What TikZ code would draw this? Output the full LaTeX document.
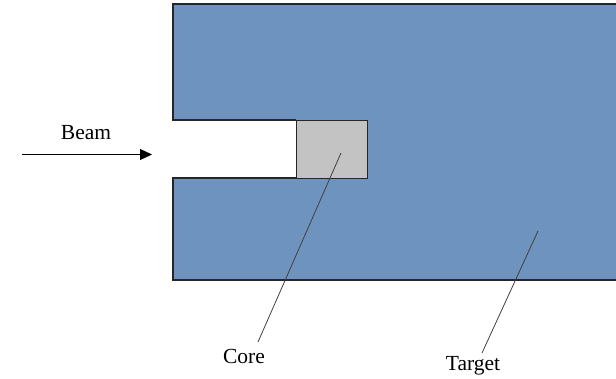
\documentclass[tikz,border=0pt]{standalone}
\usepackage{fontspec}
\setmainfont{Liberation Serif}
\usetikzlibrary{arrows.meta}
\definecolor{targetblue}{HTML}{6F93BF}
\definecolor{coregray}{HTML}{C3C3C3}
\tikzset{
  lbl/.style={font=\fontsize{21.5}{24}\selectfont, inner sep=0pt},
  leader/.style={draw=black!75, line width=0.8pt},
  outline/.style={draw=black!85, line width=1.5pt}
}
\begin{document}
\begin{tikzpicture}[x=1pt,y=-1pt]
\useasboundingbox (0,0) rectangle (616,379);
% target
\fill[targetblue] (173,4) -- (625,4) -- (625,280) -- (173,280) -- (173,178) -- (296,178) -- (296,120) -- (173,120) -- cycle;
\draw[outline] (625,4) -- (173,4) -- (173,120) -- (296,120);
\draw[outline] (296,178) -- (173,178) -- (173,280) -- (625,280);
% core
\node[outline, fill=coregray, minimum width=71pt, minimum height=58pt, inner sep=0pt, anchor=north west] (core) at (295.5,120) {};
\coordinate (coretip) at (341,153);
\coordinate (targettip) at (538,231);
% labels
\node[lbl] (beam) at (86,133) {Beam};
\node[lbl] (corelbl) at (244,356) {Core};
\node[lbl] (targetlbl) at (473,366) {Target};
\coordinate (beamstart) at (22,154.5);
\coordinate (beamend) at (152,154.5);
\draw[line width=1pt, -{Triangle[length=12pt,width=11pt]}] (beamstart) -- (beamend);
\draw[leader] (coretip) -- (258,342);
\draw[leader] (targettip) -- (482,353);
\end{tikzpicture}
\end{document}
